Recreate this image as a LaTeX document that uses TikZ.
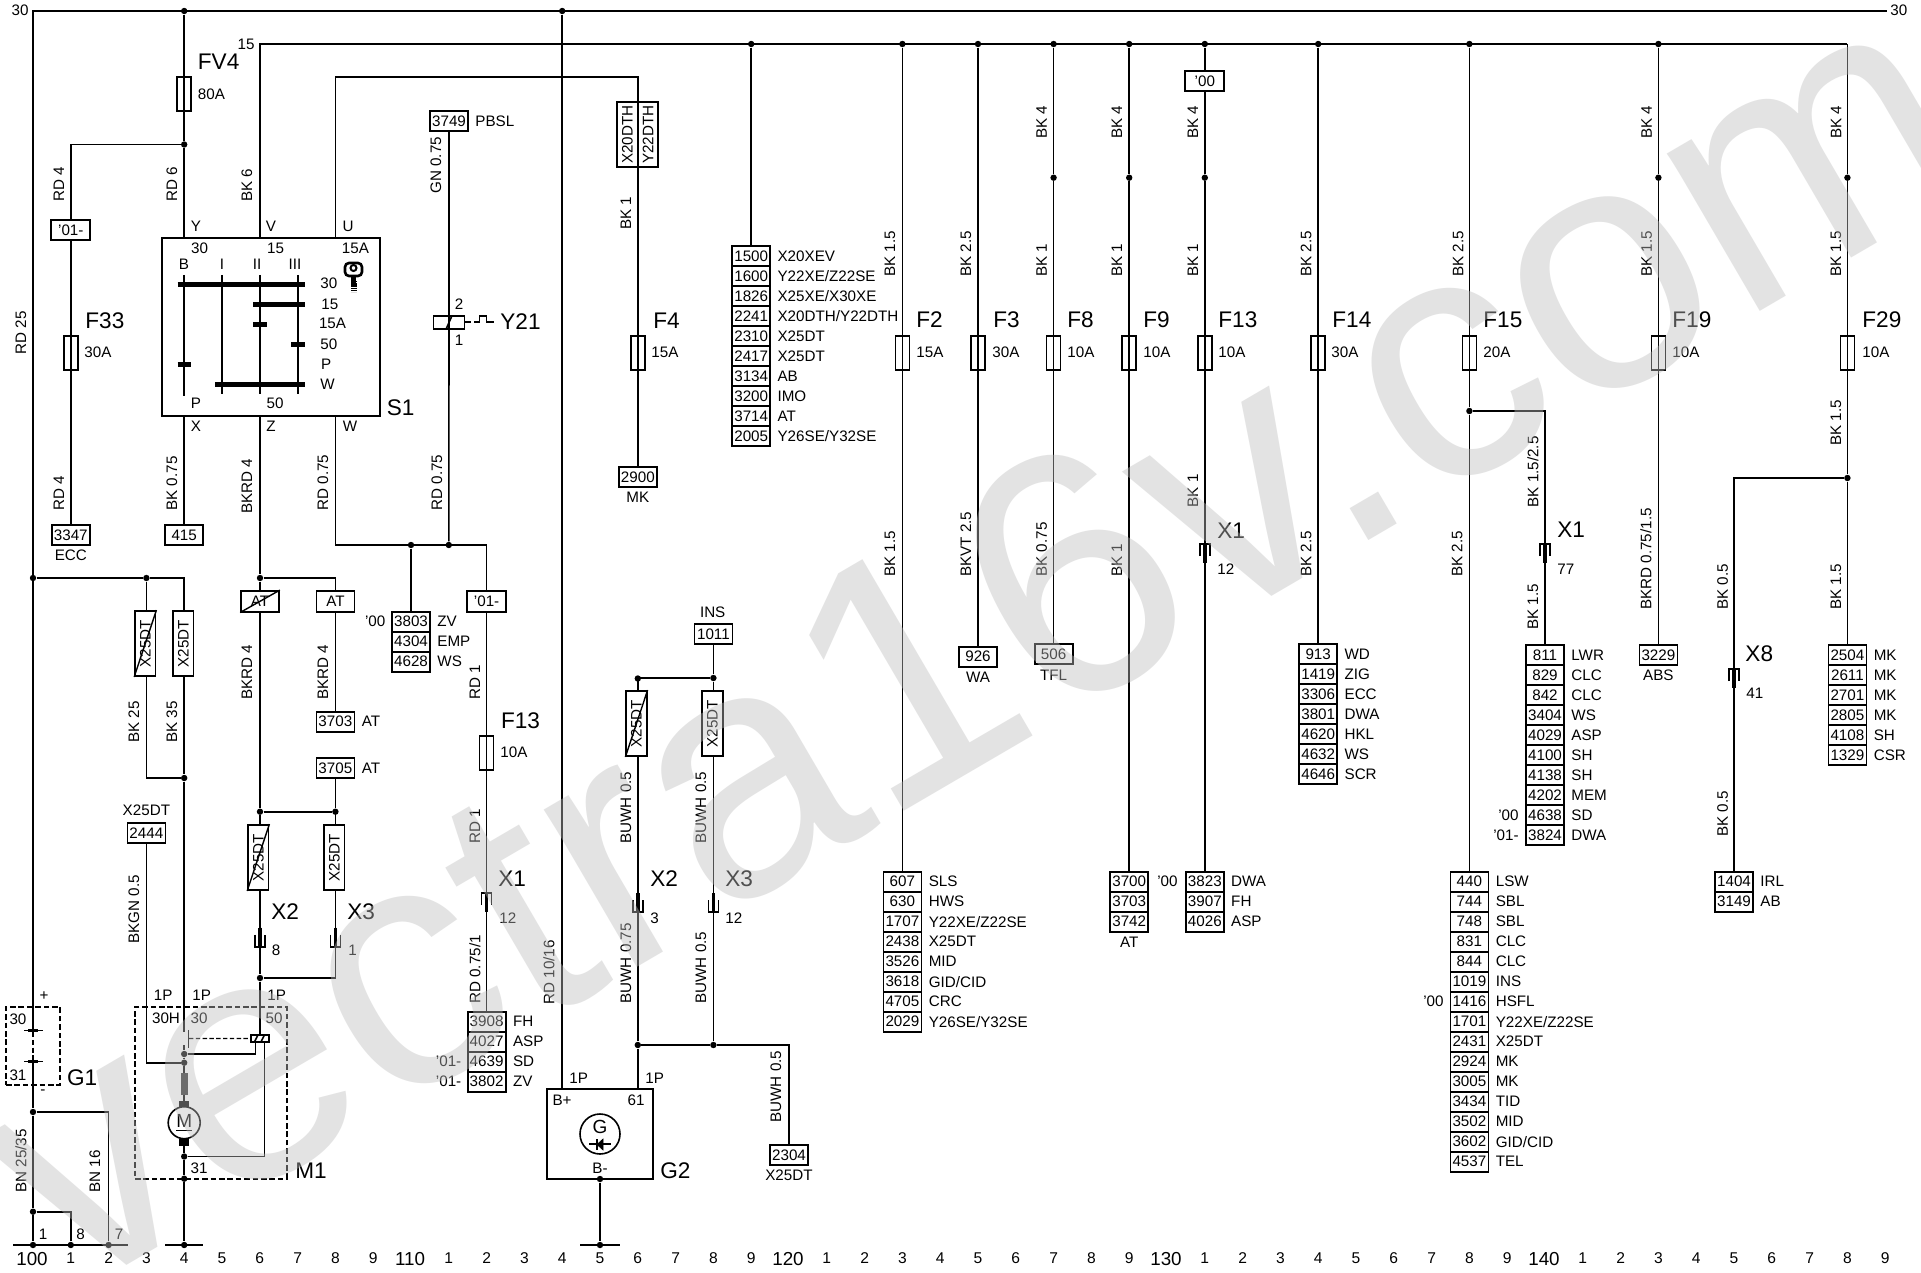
\documentclass[tikz,border=0pt]{standalone}
\usepackage{fontspec}
\setmainfont{Liberation Sans}
\usetikzlibrary{calc}
\definecolor{wmgray}{gray}{0.74}
\newcount\lblc
\tikzset{
  wire/.style={line width=0.8pt,line join=miter},
  heavy/.style={line width=1.05pt,line join=miter},
  thinw/.style={line width=0.6pt},
  dashbox/.style={line width=0.9pt,dash pattern=on 2.8pt off 1.4pt},
  sm/.style={font=\fontsize{7.6}{8}\selectfont,inner sep=0pt},
  bg/.style={font=\fontsize{11.3}{12}\selectfont,inner sep=0pt,anchor=west},
  wlabel/.style={sm,rotate=90,anchor=west},
  jn/.style={circle,fill=black,inner sep=0pt,minimum size=3.2pt},
  cell/.style={draw,line width=0.9pt,sm,minimum width=19pt,minimum height=10pt},
  fuse/.style={draw,line width=0.85pt,inner sep=0pt,minimum width=7pt,minimum height=17pt},
  vbox/.style={draw,line width=0.9pt,sm,rotate=90,minimum width=32.5pt,minimum height=10.2pt},
  wmark/.style={font=\fontsize{173}{173}\selectfont,text=wmgray,text opacity=0.42,inner sep=0pt,anchor=base west,rotate=30.3}
}
\newcommand\wlab[3]{\global\advance\lblc 1\relax\node[wlabel] (t\the\lblc) at (#1,#2) {#3};}
\newcommand\ltxt[3]{\global\advance\lblc 1\relax\node[sm,anchor=west] (t\the\lblc) at (#1,#2) {#3};}
\newcommand\rtxt[3]{\global\advance\lblc 1\relax\node[sm,anchor=east] (t\the\lblc) at (#1,#2) {#3};}
\newcommand\ctxt[3]{\global\advance\lblc 1\relax\node[sm] (t\the\lblc) at (#1,#2) {#3};}
\newcommand\btxt[3]{\global\advance\lblc 1\relax\node[bg] (t\the\lblc) at (#1,#2) {#3};}
\newcommand\fusebox[3]{\node[fuse] (#1) at (#2,#3+17) {};}
\newcommand\termlist[4]{%
  \foreach \n/\l [count=\i] in {#4}{%
    \node[cell] (#1-\i) at (#2,#3+20*\i-10) {\n};
    \node[sm,anchor=west] (#1-l\i) at (#2+26,#3+20*\i-10) {\l};
  }}
% connector symbols: open below / open above
\newcommand\plugopen[2]{%
  \draw[line width=0.8pt] (#1-5,#2+12)--(#1-5,#2)--(#1+5,#2)--(#1+5,#2+12);
  \draw[line width=1.7pt] (#1,#2)--(#1,#2+19);}
\newcommand\plugcup[2]{%
  \draw[line width=0.8pt] (#1-5,#2+7)--(#1-5,#2+19)--(#1+5,#2+19)--(#1+5,#2+7);
  \draw[line width=1.7pt] (#1,#2)--(#1,#2+19);}
\begin{document}
\begin{tikzpicture}[x=0.5pt,y=-0.5pt]
\useasboundingbox[fill=white] (0,0) rectangle (1921,1273);

% ---------- bottom scale
\foreach \k in {0,...,49}{%
  \pgfmathtruncatemacro\dg{mod(\k,10)}%
  \pgfmathsetmacro\xp{33+37.8*\k}%
  \ifnum\dg=0
    \pgfmathtruncatemacro\dec{100+\k}%
    \node[font=\fontsize{9.4}{10}\selectfont,inner sep=0pt] (n\k) at (\xp-1,1259.5) {\dec};
  \else
    \node[font=\fontsize{7.8}{8}\selectfont,inner sep=0pt] (n\k) at (\xp,1258) {\dg};
  \fi
}

% ---------- buses and main junctions
\rtxt{29}{10}{30}
\ltxt{1890}{10}{30}
\rtxt{255}{44}{15}
\coordinate (b30l) at (33,11);
\coordinate (b30r) at (1887,11);
\coordinate (b15l) at (259.8,44);
\coordinate (b15r) at (1847.4,44);
\draw[heavy] (33,1030)--(b30l)--(b30r);
\draw[wire] (259.8,238)--(b15l)--(b15r);
\foreach \nm/\xx/\yy in {j4/184.2/11,j14/562.2/11,jb19/751.2/44,jb23/902.4/44,jb25/978/44,jb27/1053.6/44,jb29/1129.2/44,jb31/1204.8/44,jb34/1318.2/44,jb38/1469.4/44,jb43/1658.4/44,
  js27/1053.6/177.7,js29/1129.2/177.7,js31/1204.8/177.7,js43/1658.4/177.7,js48/1847.4/177.7,
  jf4/184.2/144.5,jl0/33/578,jl3/146.4/578,jl4/184.2/778,jz/260/578,jzb/260/811.7,jzc/335.4/811.7,jzd/260/978,
  jw1/411/545,jw2/448.8/545,
  ju16/637.8/678.5,jv16/637.8/1045,jv18/713.4/1045,jins/713.4/678,
  jg/600/1179,jf15/1469.4/411,jf29/1847.4/478,
  jg1/33/1112,jg2/33/1211.7,jgn0/33/1245,jgn1/70.8/1245,jgn2/108.6/1245,jgn4/184.2/1245,jgn15/600/1245,
  jm1/184.2/1054,jm2/184.2/1062.7,jm3/184.2/1156.5,jm4/184.2/1178.7}{%
  \ifx\nm\skipname\else\node[jn] (\nm) at (\xx,\yy) {};\fi
}

% ---------- FV4 and S1 feed
\fusebox{fv4}{184.2}{77}
\btxt{197.5}{62}{FV4}
\ltxt{197.5}{94}{80A}
\draw[wire] (j4)--(fv4.center)--(jf4);
\wlab{172}{202}{RD 6}
\wlab{247}{202}{BK 6}
\wlab{59}{202}{RD 4}
\wlab{21}{355}{RD 25}

% S1
\node[draw,line width=0.9pt,minimum width=109pt,minimum height=89pt,inner sep=0pt] (s1) at (271,327) {};
\draw[wire] (jf4)--(184.2,238);
\draw[wire] (335.4,238)--(335.4,77.3)--(637.8,77.3)--(637.8,102);
\ctxt{196}{226}{Y}\ctxt{271}{226}{V}\ctxt{348}{226}{U}
\ctxt{199.5}{248}{30}\ctxt{275.5}{248}{15}\ctxt{355.5}{248}{15A}
\ctxt{184}{264}{B}\ctxt{222}{264}{I}\ctxt{257}{264}{II}\ctxt{295}{264}{III}
\ltxt{320}{283}{30}\ltxt{321}{304}{15}\ltxt{318.6}{323}{15A}\ltxt{320}{344}{50}\ltxt{320.6}{364}{P}\ltxt{320}{384}{W}
\ctxt{196}{403}{P}\ctxt{275}{403}{50}
\ctxt{196}{426}{X}\ctxt{271}{426}{Z}\ctxt{350}{426}{W}
\btxt{386.5}{408}{S1}
\draw[wire] (184,275)--(184,396);
\draw[wire] (222,275)--(222,394);
\draw[wire] (260,275)--(260,394);
\draw[wire] (297.7,275)--(297.7,394);
\foreach \yb/\xa/\xb in {284.5/177.5/304.5,304.5/253/304.5,324.5/253/267,344.5/291/304.5,364.5/177.5/191,384.5/215/304.5}{
  \draw[line width=2.8pt] (\xa,\yb)--(\xb,\yb);
}
% key
\draw[line width=1.3pt,rounded corners=2pt] (345,263) rectangle (362,276);
\draw[line width=1pt] (353.5,268) circle [radius=3];
\draw[line width=2.2pt] (353.5,276)--(353.5,284);
\draw[line width=3pt,dash pattern=on 0.7pt off 0.4pt] (353.5,281)--(353.5,292);

% ---------- F33 column
\node[draw,line width=0.9pt,sm,minimum width=19.5pt,minimum height=10pt] (y01a) at (70.8,230) {'01-};
\fusebox{f33}{70.8}{336}
\btxt{85}{321}{F33}
\ltxt{84}{352}{30A}
\termlist{k3347}{70.8}{525}{3347/{}}
\ctxt{70.8}{555}{ECC}
\wlab{59}{511}{RD 4}
\draw[wire] (jf4)--(70.8,144.5)--(y01a);
\draw[wire] (y01a)--(f33.center)--(k3347-1);

% ---------- X column
\termlist{k415}{184.2}{525}{415/{}}
\draw[wire] (184.2,416)--(k415-1);
\wlab{172}{511}{BK 0.75}

% ---------- Z column
\node[draw,line width=0.9pt,sm,minimum width=19pt,minimum height=10.3pt] (atx) at (260,601.3) {AT};
\draw[line width=0.7pt] (atx.south west)--(atx.north east);
\node[draw,line width=0.9pt,sm,minimum width=19pt,minimum height=10.3pt] (at2) at (335.4,601.3) {AT};
\draw[wire] (260,416)--(jz)--(atx);
\draw[wire] (jz)--(335.4,578)--(at2);
\wlab{247}{514}{BKRD 4}
\wlab{247}{700}{BKRD 4}
\wlab{323}{700}{BKRD 4}
\termlist{k3703}{335.4}{711.7}{3703/AT}
\termlist{k3705}{335.4}{758}{3705/AT}
\draw[wire] (at2)--(k3703-1);
\draw[wire] (k3705-1)--(jzc);
\draw[wire] (atx)--(jzb)--(jzc);
\node[vbox] (b6x) at (258.3,857.5) {X25DT};
\draw[line width=0.7pt] (b6x.north west)--(b6x.south east);
\node[vbox] (b8) at (334.3,857.5) {X25DT};
\draw[wire] (jzb)--(260,825) (260,890)--(jzd);
\draw[wire] (jzc)--(335.4,825) (335.4,890)--(335.4,978)--(jzd);
\plugcup{260}{927.7}
\plugcup{335.4}{927.7}
\btxt{271}{912}{X2}\btxt{347}{912}{X3}
\ltxt{271.4}{950}{8}\ltxt{348}{950}{1}
\draw[wire] (jzd)--(260,1034.7);

% ---------- W wire
\draw[wire] (335.4,416)--(335.4,545)--(486.6,545)--(486.6,591);
\wlab{323}{511}{RD 0.75}
\wlab{437}{511}{RD 0.75}
\termlist{k3803}{411}{611.7}{3803/ZV,4304/EMP,4628/WS}
\rtxt{385.7}{621.7}{'00}
\draw[wire] (jw1)--(k3803-1);

% ---------- Y21
\termlist{k3749}{449}{111}{3749/PBSL}
\wlab{436}{194}{GN 0.75}
\node[draw,line width=0.9pt,minimum width=15.5pt,minimum height=6.8pt,inner sep=0pt] (y21) at (449,322.5) {};
\draw[wire] (k3749-1)--(y21.center)--(jw2);
\draw[line width=0.8pt] (446,329.3)--(452,315.7);
\ctxt{459}{304}{2}\ctxt{459}{340}{1}
\draw[line width=0.8pt] (465,322)--(471,322) (474,322)--(479.6,322)--(479.6,315.7)--(486.5,315.7)--(486.5,322)--(494,322);
\btxt{500}{321.7}{Y21}

% ---------- lower F13 column
\node[draw,line width=0.9pt,sm,minimum width=19.3pt,minimum height=10.3pt] (y01b) at (486.6,601.3) {'01-};
\fusebox{f13b}{486.6}{735.7}
\wlab{475}{700}{RD 1}
\wlab{475}{844}{RD 1}
\wlab{475}{1004}{RD 0.75/1}
\btxt{500.7}{721}{F13}
\ltxt{500}{752}{10A}
\termlist{k3908}{486.6}{1011.7}{3908/FH,4027/ASP,4639/SD,3802/ZV}
\draw[wire] (y01b)--(f13b.center)--(k3908-1);
\plugopen{486.6}{893}
\btxt{498}{879}{X1}
\ltxt{499}{918}{12}
\rtxt{461.7}{1061.7}{'01-}
\rtxt{461.7}{1081.7}{'01-}

% ---------- G2
\node[draw,line width=0.9pt,minimum width=53.2pt,minimum height=45pt,inner sep=0pt] (g2) at (600,1134) {};
\node[draw,line width=0.8pt,circle,minimum size=20pt,inner sep=0pt] (g2c) at (600,1134) {};
\node[font=\fontsize{9.5}{10}\selectfont,inner sep=0pt] (g2t) at (600,1127) {G};
\draw[line width=0.7pt] (589,1144)--(611,1144);
\draw[line width=0.9pt] (597,1139)--(597,1150);
\draw[fill=black,line width=0.3pt] (603,1139)--(597,1144.5)--(603,1150)--cycle;
\ctxt{562}{1100.7}{B+}\ctxt{636}{1100.7}{61}\ctxt{600}{1168}{B-}
\ltxt{569}{1078}{1P}\ltxt{645}{1078}{1P}
\btxt{660}{1170.7}{G2}
\draw[heavy] (j14)--(562.2,1089);
\wlab{549}{1004.7}{RD 10/16}
\draw[heavy] (jg)--(jgn15);
\draw[wire] (580,1245)--(620,1245);

% ---------- F4 column
\node[vbox,minimum width=32.5pt] (xdth) at (627.5,134.5) {X20DTH};
\node[vbox] (ydth) at (648,134.5) {Y22DTH};
\fusebox{f4}{637.8}{336}
\wlab{626}{230}{BK 1}
\btxt{653}{321}{F4}
\ltxt{651}{352}{15A}
\termlist{k2900}{637.8}{467}{2900/{}}
\ctxt{637.8}{497}{MK}
\coordinate (xd) at (637.8,167);
\draw[wire] (xd)--(f4.center)--(k2900-1);

% ---------- INS group
\ctxt{712.7}{612}{INS}
\termlist{k1011}{713.4}{624}{1011/{}}
\draw[wire] (k1011-1)--(jins)--(713.4,691);
\draw[wire] (jins)--(637.8,678)--(637.8,691);
\node[vbox] (b16) at (636.5,723.5) {X25DT};
\draw[line width=0.7pt] (b16.north west)--(b16.south east);
\node[vbox] (b18) at (712.5,723.5) {X25DT};
\wlab{626}{844}{BUWH 0.5}
\wlab{701}{844}{BUWH 0.5}
\wlab{626}{1004}{BUWH 0.75}
\wlab{701}{1004}{BUWH 0.5}
\draw[wire] (637.8,756)--(jv16)--(637.8,1089);
\draw[wire] (713.4,756)--(jv18);
\plugcup{637.8}{893}
\plugcup{713.4}{893}
\btxt{650}{879}{X2}\btxt{725}{879}{X3}
\ltxt{650}{918}{3}\ltxt{725}{918}{12}
\termlist{k2304}{789}{1145}{2304/{}}
\ctxt{789}{1175}{X25DT}
\wlab{776}{1123}{BUWH 0.5}
\draw[wire] (jv16)--(jv18)--(789,1045)--(k2304-1);

% ---------- list on 15 bus
\termlist{k1500}{751.2}{246}{1500/X20XEV,1600/{Y22XE/Z22SE},1826/{X25XE/X30XE},2241/{X20DTH/Y22DTH},2310/X25DT,2417/X25DT,3134/AB,3200/IMO,3714/AT,2005/{Y26SE/Y32SE}}
\draw[wire] (jb19)--(k1500-1);

% ---------- F2
\fusebox{f2}{902.4}{336}
\btxt{916}{320}{F2}\ltxt{916}{352}{15A}
\wlab{890}{277}{BK 1.5}\wlab{890}{577}{BK 1.5}
\termlist{k607}{902.4}{871.7}{607/SLS,630/HWS,1707/{Y22XE/Z22SE},2438/X25DT,3526/MID,3618/{GID/CID},4705/CRC,2029/{Y26SE/Y32SE}}
\draw[wire] (jb23)--(f2.center)--(k607-1);

% ---------- F3
\fusebox{f3}{978}{336}
\btxt{993}{320}{F3}\ltxt{992}{352}{30A}
\wlab{966}{277}{BK 2.5}\wlab{966}{577}{BKVT 2.5}
\termlist{k926}{978}{646.7}{926/{}}
\ctxt{978}{677}{WA}
\draw[heavy] (jb25)--(f3.center)--(k926-1);

% ---------- F8
\fusebox{f8}{1053.6}{336}
\btxt{1067}{320}{F8}\ltxt{1067}{352}{10A}
\wlab{1041.7}{139}{BK 4}\wlab{1041.7}{277}{BK 1}\wlab{1041.7}{577}{BK 0.75}
\termlist{k506}{1053.6}{644.3}{506/{}}
\ctxt{1053.6}{675}{TFL}
\draw[wire] (jb27)--(js27)--(f8.center)--(k506-1);

% ---------- F9
\fusebox{f9}{1129.2}{336}
\btxt{1143}{320}{F9}\ltxt{1143}{352}{10A}
\wlab{1117}{139}{BK 4}\wlab{1117}{277}{BK 1}\wlab{1117}{577}{BK 1}
\termlist{k3700}{1129.2}{871.7}{3700/{},3703/{},3742/{}}
\ctxt{1129.2}{942}{AT}
\draw[wire] (jb29)--(js29)--(f9.center)--(k3700-1);

% ---------- F13
\node[draw,line width=0.9pt,sm,minimum width=19.5pt,minimum height=10.2pt] (y00) at (1204.8,81) {'00};
\fusebox{f13a}{1204.8}{336}
\btxt{1218}{320}{F13}\ltxt{1218}{352}{10A}
\wlab{1193}{139}{BK 4}\wlab{1193}{277}{BK 1}\wlab{1193}{507.7}{BK 1}
\btxt{1217}{530.7}{X1}\ltxt{1217}{569}{12}
\termlist{k3823}{1204.8}{871.7}{3823/DWA,3907/FH,4026/ASP}
\rtxt{1178}{881.7}{'00}
\draw[wire] (jb31)--(y00);
\draw[wire] (y00)--(js31)--(f13a.center)--(k3823-1);
\plugopen{1204.8}{544}

% ---------- F14
\fusebox{f14}{1318.2}{336}
\btxt{1332}{320}{F14}\ltxt{1331}{352}{30A}
\wlab{1306}{277}{BK 2.5}\wlab{1306}{577}{BK 2.5}
\termlist{k913}{1318.2}{644.3}{913/WD,1419/ZIG,3306/ECC,3801/DWA,4620/HKL,4632/WS,4646/SCR}
\draw[heavy] (jb34)--(f14.center)--(k913-1);

% ---------- F15
\fusebox{f15}{1469.4}{336}
\btxt{1483}{320}{F15}\ltxt{1483}{352}{20A}
\wlab{1458}{277}{BK 2.5}\wlab{1457}{577}{BK 2.5}
\termlist{k440}{1469.4}{871.7}{440/LSW,744/SBL,748/SBL,831/CLC,844/CLC,1019/INS,1416/HSFL,1701/{Y22XE/Z22SE},2431/X25DT,2924/MK,3005/MK,3434/TID,3502/MID,3602/{GID/CID},4537/TEL}
\rtxt{1444}{1001.7}{'00}
\draw[wire] (jb38)--(f15.center)--(jf15)--(k440-1);
\wlab{1533}{507.7}{BK 1.5/2.5}\wlab{1533}{630}{BK 1.5}
\btxt{1557}{530}{X1}\ltxt{1557}{569}{77}
\termlist{k811}{1545}{645}{811/LWR,829/CLC,842/CLC,3404/WS,4029/ASP,4100/SH,4138/SH,4202/MEM,4638/SD,3824/DWA}
\rtxt{1519}{815}{'00}
\rtxt{1519}{835}{'01-}
\draw[wire] (jf15)--(1545,411)--(k811-1);
\plugopen{1545}{544}

% ---------- F19
\fusebox{f19}{1658.4}{336}
\btxt{1672}{320}{F19}\ltxt{1672}{352}{10A}
\wlab{1646.7}{139}{BK 4}\wlab{1646.7}{277}{BK 1.5}\wlab{1646}{610}{BKRD 0.75/1.5}
\termlist{k3229}{1658.4}{645}{3229/{}}
\ctxt{1658.4}{675}{ABS}
\draw[wire] (jb43)--(js43)--(f19.center)--(k3229-1);

% ---------- F29
\fusebox{f29}{1847.4}{336}
\btxt{1862}{320}{F29}\ltxt{1862}{352}{10A}
\wlab{1836}{139}{BK 4}\wlab{1836}{277}{BK 1.5}\wlab{1836}{446}{BK 1.5}\wlab{1836}{610}{BK 1.5}
\termlist{k2504}{1847.4}{645}{2504/MK,2611/MK,2701/MK,2805/MK,4108/SH,1329/CSR}
\draw[wire] (b15r)--(js48)--(f29.center)--(jf29)--(k2504-1);

% ---------- X8
\wlab{1722.7}{610}{BK 0.5}\wlab{1722.7}{837}{BK 0.5}
\btxt{1745}{654}{X8}\ltxt{1746}{693}{41}
\termlist{k1404}{1734}{871.7}{1404/IRL,3149/AB}
\draw[wire] (jf29)--(1734,478)--(k1404-1);
\plugopen{1734}{669}

% ---------- left column
\draw[wire] (jl0)--(jl3)--(184.2,578)--(184.2,611);
\node[vbox] (b3x) at (145.3,643.5) {X25DT};
\draw[line width=0.7pt] (b3x.north west)--(b3x.south east);
\node[vbox] (b4) at (183.3,643.5) {X25DT};
\draw[wire] (jl3)--(146.4,611) (146.4,676)--(146.4,778)--(jl4);
\draw[wire] (184.2,676)--(jl4);
\draw[heavy] (jl4)--(184.2,1031.5);
\wlab{134}{743}{BK 25}\wlab{172}{743}{BK 35}
\ctxt{146.4}{810.7}{X25DT}
\termlist{k2444}{146.4}{822.7}{2444/{}}
\wlab{134}{944}{BKGN 0.5}
\draw[wire] (k2444-1)--(146.4,1062.7)--(jm2);

% ---------- G1
\node[draw,dashbox,minimum width=27pt,minimum height=39pt,inner sep=0pt] (g1) at (33,1046) {};
\ctxt{44}{996}{+}\ctxt{43}{1092}{-}
\ctxt{18}{1019}{30}\ctxt{18}{1075}{31}
\btxt{66.7}{1078}{G1}
\draw[line width=0.6pt] (24,1030.7)--(42.7,1030.7);
\draw[line width=1.6pt] (28,1030.7)--(38,1030.7);
\draw[line width=0.6pt] (24,1061.7)--(42.7,1061.7);
\draw[line width=1.6pt] (28,1061.7)--(38,1061.7);
\draw[heavy,dash pattern=on 2.5pt off 1.4pt] (33,1032)--(33,1061);
\draw[heavy] (33,1062)--(jg1)--(jg2)--(jgn0);
\draw[wire] (jg1)--(108.6,1112)--(jgn2);
\draw[heavy] (jg2)--(70.8,1211.7)--(jgn1);
\wlab{21}{1193}{BN 25/35}\wlab{95}{1193}{BN 16}
\ctxt{43}{1234}{1}\ctxt{80.5}{1234}{8}\ctxt{119}{1234}{7}
\draw[wire] (jgn0)--(jgn1)--(jgn2);
\draw[wire] (13,1245)--(128,1245);

% ---------- M1
\node[draw,dashbox,minimum width=75.8pt,minimum height=85.8pt,inner sep=0pt] (m1) at (210.8,1092.8) {};
\ltxt{153.5}{995.7}{1P}\ltxt{192}{995.7}{1P}\ltxt{267}{995.7}{1P}
\ctxt{166}{1018}{30H}\ctxt{199}{1018}{30}\ctxt{274}{1018}{50}\ctxt{199}{1168}{31}
\btxt{295}{1170.7}{M1}
\node[draw,line width=0.9pt,minimum width=9pt,minimum height=3.7pt,inner sep=0pt] (coil) at (259.7,1038.4) {};
\draw[line width=0.8pt] (254.5,1042)--(258,1034.7) (261,1042)--(264.5,1034.7);
\draw[thinw] (188.7,1030)--(188.7,1048);
\draw[thinw,dash pattern=on 2.2pt off 1.2pt] (189,1038.5)--(coil.west);
\draw[wire] (184.2,1045)--(jm1)--(jm2);
\draw[wire] (jm1)--(255.3,1054)--(255.3,1042);
\draw[wire] (264.3,1042)--(264.3,1156.5)--(jm3);
\draw[heavy] (jm2)--(184.2,1073);
\fill[black!80] (180.7,1073) rectangle (187.5,1095);
\draw[heavy] (184.2,1095)--(184.2,1102);
\fill (179.2,1101) rectangle (189.2,1107);
\node[draw,line width=0.8pt,circle,minimum size=16pt,inner sep=0pt,font=\fontsize{9.5}{10}\selectfont] (mot) at (184.2,1122.7) {\underline{M}};
\fill (179.2,1139) rectangle (189.2,1145.5);
\draw[heavy] (184.2,1145)--(jm3)--(jm4)--(jgn4);
\draw[wire] (165,1245)--(203,1245);

% ---------- watermark
\node[wmark] (wm) at (68,1300) {vectra16v.com};
\end{tikzpicture}
\end{document}
